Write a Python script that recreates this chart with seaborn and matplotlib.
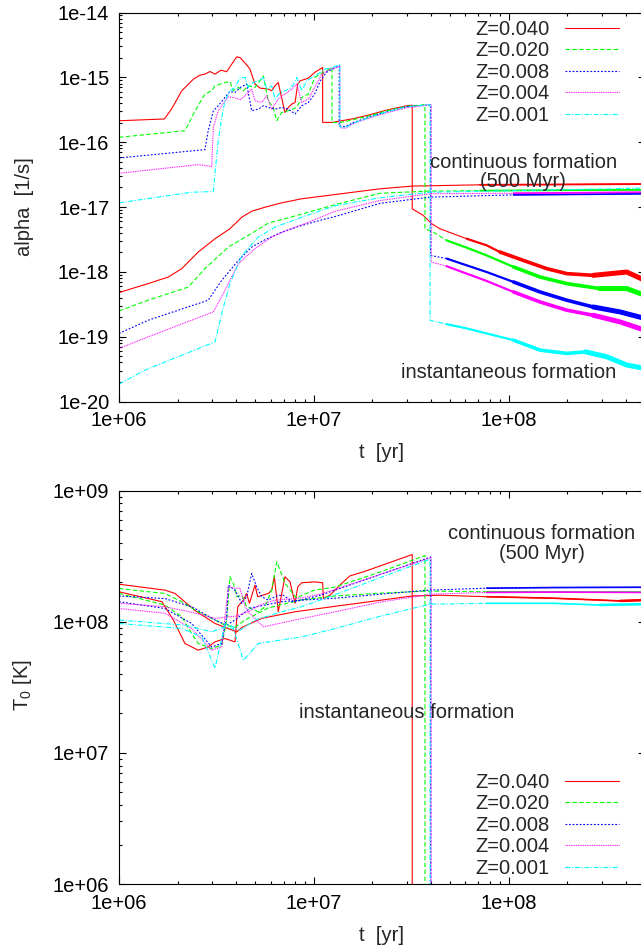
import matplotlib
matplotlib.use("Agg")
import matplotlib.pyplot as plt
from matplotlib.lines import Line2D
from matplotlib.ticker import LogLocator, FuncFormatter, NullFormatter
import numpy as np
import seaborn as sns

# ---- data (t in yr) ----
z_labels = ["Z=0.040", "Z=0.020", "Z=0.008", "Z=0.004", "Z=0.001"]

# top panel: alpha [1/s], instantaneous formation
a_inst_t_040 = [1.0e6, 1.71e6, 1.86e6, 2.10e6, 2.41e6, 2.60e6, 2.76e6, 2.93e6, 3.11e6, 3.34e6, 3.57e6, 3.79e6, 4.02e6,
                4.18e6, 4.52e6, 4.70e6, 4.99e6, 5.30e6, 5.84e6, 6.08e6, 6.32e6, 6.57e6, 6.71e6, 7.11e6, 7.40e6, 7.70e6,
                8.01e6, 8.27e6, 8.50e6, 9.37e6, 1.01e7, 1.11e7, 1.11e7, 1.25e7, 1.59e7, 1.94e7, 2.37e7, 3.00e7, 3.20e7,
                3.20e7, 3.65e7, 4.03e7, 4.44e7, 6.09e7, 7.72e7, 9.03e7, 1.19e8, 1.57e8, 1.99e8, 2.72e8, 4.04e8, 5.0e8]
a_inst_v_040 = [2.14e-16, 2.28e-16, 3.24e-16, 6.20e-16, 9.38e-16, 1.08e-15, 1.12e-15, 1.23e-15, 1.12e-15, 1.29e-15,
                1.22e-15, 1.60e-15, 2.07e-15, 2.02e-15, 1.56e-15, 1.34e-15, 7.86e-16, 6.82e-16, 6.58e-16, 6.20e-16,
                7.40e-16, 8.32e-16, 6.20e-16, 2.87e-16, 3.43e-16, 3.87e-16, 4.10e-16, 7.86e-16, 8.83e-16, 9.72e-16,
                1.19e-15, 1.42e-15, 2.02e-16, 2.02e-16, 2.30e-16, 2.65e-16, 3.13e-16, 3.65e-16, 3.71e-16, 9.38e-18,
                7.40e-18, 5.52e-18, 4.62e-18, 3.24e-18, 2.56e-18, 2.02e-18, 1.50e-18, 1.12e-18, 9.38e-19, 8.83e-19,
                9.93e-19, 7.40e-19]
a_inst_t_020 = [1.0e6, 2.18e6, 2.46e6, 2.76e6, 2.99e6, 3.11e6, 3.50e6, 3.71e6, 3.86e6, 4.10e6, 4.35e6, 4.61e6, 4.99e6,
                5.51e6, 5.84e6, 6.19e6, 6.45e6, 6.84e6, 7.40e6, 8.17e6, 8.67e6, 9.37e6, 1.01e7, 1.12e7, 1.24e7, 1.24e7,
                1.36e7, 1.59e7, 1.94e7, 2.37e7, 3.00e7, 3.72e7, 3.72e7, 4.11e7, 4.81e7, 6.09e7, 7.72e7, 1.06e8, 1.45e8,
                1.99e8, 2.94e8, 4.04e8, 5.0e8]
a_inst_v_020 = [1.19e-16, 1.50e-16, 3.05e-16, 5.52e-16, 6.20e-16, 7.40e-16, 8.32e-16, 8.61e-16, 6.20e-16, 6.97e-16,
                6.20e-16, 7.40e-16, 6.97e-16, 1.05e-15, 4.35e-16, 3.43e-16, 2.14e-16, 2.87e-16, 3.05e-16, 3.43e-16,
                4.89e-16, 5.52e-16, 9.93e-16, 1.19e-15, 1.42e-15, 2.02e-16, 2.00e-16, 2.22e-16, 2.56e-16, 3.05e-16,
                3.58e-16, 3.78e-16, 4.62e-18, 4.09e-18, 3.05e-18, 2.36e-18, 1.79e-18, 1.19e-18, 8.32e-19, 6.58e-19,
                5.52e-19, 5.52e-19, 4.35e-19]
a_inst_t_008 = [1.0e6, 2.76e6, 2.87e6, 3.05e6, 3.23e6, 3.50e6, 3.71e6, 3.94e6, 4.18e6, 4.52e6, 4.80e6, 5.19e6, 5.51e6,
                5.84e6, 6.32e6, 6.84e6, 7.40e6, 8.01e6, 8.67e6, 9.37e6, 1.01e7, 1.08e7, 1.16e7, 1.29e7, 1.35e7, 1.35e7,
                1.45e7, 1.59e7, 1.94e7, 2.37e7, 3.00e7, 3.98e7, 3.98e7, 4.81e7, 6.09e7, 7.72e7, 1.06e8, 1.45e8, 1.99e8,
                2.72e8, 3.73e8, 5.0e8]
a_inst_v_008 = [5.71e-17, 7.67e-17, 1.50e-16, 3.05e-16, 3.65e-16, 4.89e-16, 6.05e-16, 5.83e-16, 6.97e-16, 7.86e-16,
                3.05e-16, 3.24e-16, 3.65e-16, 3.43e-16, 3.24e-16, 3.43e-16, 3.24e-16, 2.72e-16, 3.65e-16, 4.10e-16,
                5.52e-16, 8.83e-16, 1.19e-15, 1.42e-15, 1.50e-15, 1.79e-16, 1.73e-16, 2.00e-16, 2.47e-16, 2.94e-16,
                3.52e-16, 3.78e-16, 1.79e-18, 1.60e-18, 1.26e-18, 9.93e-19, 6.97e-19, 4.89e-19, 3.65e-19, 2.87e-19,
                2.41e-19, 1.91e-19]
a_inst_t_004 = [1.0e6, 2.55e6, 2.99e6, 3.05e6, 3.23e6, 3.50e6, 3.64e6, 4.02e6, 4.18e6, 4.52e6, 4.80e6, 4.99e6, 5.40e6,
                5.73e6, 6.08e6, 6.57e6, 7.11e6, 7.70e6, 8.17e6, 8.67e6, 9.37e6, 1.01e7, 1.10e7, 1.21e7, 1.32e7, 1.36e7,
                1.36e7, 1.45e7, 1.59e7, 1.94e7, 2.37e7, 3.00e7, 4.00e7, 4.00e7, 4.81e7, 6.09e7, 7.72e7, 1.06e8, 1.45e8,
                1.99e8, 2.72e8, 3.73e8, 5.0e8]
a_inst_v_004 = [3.31e-17, 4.51e-17, 4.20e-17, 1.69e-16, 3.05e-16, 4.35e-16, 5.01e-16, 4.79e-16, 4.46e-16, 5.52e-16,
                6.58e-16, 4.35e-16, 4.10e-16, 5.19e-16, 3.24e-16, 4.62e-16, 5.52e-16, 6.58e-16, 7.86e-16, 4.10e-16,
                4.62e-16, 6.97e-16, 1.12e-15, 1.34e-15, 1.42e-15, 1.48e-15, 1.67e-16, 1.64e-16, 1.93e-16, 2.38e-16,
                2.84e-16, 3.40e-16, 3.78e-16, 1.42e-18, 1.22e-18, 9.38e-19, 7.22e-19, 4.89e-19, 3.43e-19, 2.56e-19,
                2.14e-19, 1.69e-19, 1.26e-19]
a_inst_t_001 = [1.0e6, 2.36e6, 3.05e6, 3.11e6, 3.23e6, 3.37e6, 3.50e6, 3.71e6, 3.94e6, 4.18e6, 4.44e6, 4.61e6, 4.89e6,
                5.19e6, 5.51e6, 5.73e6, 6.08e6, 6.32e6, 6.71e6, 7.11e6, 7.70e6, 8.17e6, 8.67e6, 9.20e6, 9.75e6, 1.05e7,
                1.14e7, 1.24e7, 1.36e7, 1.36e7, 1.45e7, 1.59e7, 1.94e7, 2.37e7, 3.00e7, 3.95e7, 3.95e7, 4.81e7, 6.09e7,
                7.72e7, 1.06e8, 1.45e8, 1.99e8, 2.49e8, 3.19e8, 4.04e8, 5.0e8]
a_inst_v_001 = [1.16e-17, 1.69e-17, 1.73e-17, 3.24e-17, 1.05e-16, 2.41e-16, 4.35e-16, 6.20e-16, 6.97e-16, 9.93e-16,
                9.93e-16, 6.97e-16, 8.32e-16, 8.83e-16, 9.93e-16, 6.58e-16, 7.40e-16, 4.62e-16, 5.83e-16, 6.20e-16,
                6.97e-16, 9.93e-16, 6.20e-16, 8.83e-16, 9.93e-16, 1.12e-15, 1.34e-15, 1.42e-15, 1.56e-15, 1.73e-16,
                1.67e-16, 1.96e-16, 2.43e-16, 2.94e-16, 3.52e-16, 3.78e-16, 1.79e-19, 1.56e-19, 1.34e-19, 1.12e-19,
                8.83e-20, 6.20e-20, 5.52e-20, 5.83e-20, 4.89e-20, 3.65e-20, 3.24e-20]

# top panel: alpha, continuous formation (500 Myr)
a_cont_t_040 = [1.0e6, 1.41e6, 1.79e6, 2.10e6, 2.55e6, 3.11e6, 3.71e6, 4.27e6, 4.80e6, 5.62e6, 6.84e6, 8.67e6, 1.29e7,
                2.19e7, 3.20e7, 7.13e7, 1.57e8, 5.0e8]
a_cont_v_040 = [4.79e-19, 6.58e-19, 8.32e-19, 1.12e-18, 2.02e-18, 3.24e-18, 4.62e-18, 6.97e-18, 8.61e-18, 9.93e-18,
                1.16e-17, 1.34e-17, 1.56e-17, 1.91e-17, 2.10e-17, 2.20e-17, 2.22e-17, 2.26e-17]
a_cont_t_020 = [1.0e6, 1.41e6, 2.27e6, 2.76e6, 3.64e6, 4.61e6, 5.84e6, 7.40e6, 9.37e6, 1.29e7, 2.19e7, 3.72e7, 7.13e7,
                5.0e8]
a_cont_v_020 = [2.49e-19, 3.65e-19, 5.83e-19, 1.12e-18, 2.41e-18, 3.65e-18, 5.64e-18, 6.82e-18, 8.32e-18, 1.09e-17,
                1.63e-17, 1.75e-17, 1.79e-17, 1.84e-17]
a_cont_t_008 = [1.0e6, 1.41e6, 2.87e6, 3.37e6, 4.10e6, 4.80e6, 5.62e6, 6.84e6, 8.67e6, 1.10e7, 1.29e7, 2.19e7, 3.95e7,
                1.06e8, 5.0e8]
a_cont_v_008 = [1.12e-19, 1.79e-19, 3.65e-19, 7.40e-19, 1.50e-18, 2.41e-18, 3.13e-18, 4.09e-18, 5.19e-18, 6.35e-18,
                7.14e-18, 1.14e-17, 1.42e-17, 1.54e-17, 1.60e-17]
a_cont_t_004 = [1.0e6, 1.41e6, 3.05e6, 3.50e6, 4.10e6, 4.99e6, 6.08e6, 7.40e6, 9.37e6, 1.29e7, 2.19e7, 3.95e7, 1.06e8,
                5.0e8]
a_cont_v_004 = [6.58e-20, 9.93e-20, 2.41e-19, 5.19e-19, 1.34e-18, 2.28e-18, 3.43e-18, 4.46e-18, 5.83e-18, 8.61e-18,
                1.26e-17, 1.60e-17, 1.63e-17, 1.69e-17]
a_cont_t_001 = [1.0e6, 1.36e6, 3.11e6, 3.37e6, 3.71e6, 4.27e6, 5.19e6, 6.32e6, 8.67e6, 1.29e7, 2.19e7, 3.95e7, 5.0e8]
a_cont_v_001 = [1.86e-20, 3.05e-20, 8.32e-20, 2.28e-19, 6.58e-19, 1.79e-18, 3.43e-18, 4.89e-18, 6.97e-18, 1.05e-17,
                1.39e-17, 1.69e-17, 1.96e-17]

# bottom panel: T0 [K], instantaneous formation (drops to zero at the end)
T_inst_t_040 = [1.0e6, 1.66e6, 1.90e6, 2.18e6, 2.55e6, 2.87e6, 3.11e6, 3.50e6, 3.94e6, 4.07e6, 4.35e6, 4.52e6, 4.67e6,
                4.99e6, 5.15e6, 5.84e6, 6.08e6, 6.27e6, 6.57e6, 7.11e6, 7.55e6, 8.01e6, 8.27e6, 8.67e6, 1.01e7, 1.11e7,
                1.12e7, 1.21e7, 1.36e7, 1.53e7, 1.80e7, 3.20e7, 3.20e7]
T_inst_v_040 = [1.69e8, 1.42e8, 1.03e8, 6.82e7, 6.06e7, 6.42e7, 7.01e7, 7.44e7, 7.01e7, 1.30e8, 1.46e8, 1.64e8, 1.38e8,
                1.90e8, 1.55e8, 1.64e8, 1.74e8, 2.20e8, 1.19e8, 2.20e8, 2.01e8, 1.38e8, 1.84e8, 1.98e8, 2.01e8, 1.98e8,
                1.50e8, 1.59e8, 1.90e8, 2.23e8, 2.40e8, 3.25e8, 1.0e5]
T_inst_t_020 = [1.0e6, 1.72e6, 2.10e6, 2.36e6, 2.55e6, 2.99e6, 3.37e6, 3.57e6, 3.71e6, 3.86e6, 4.02e6, 4.27e6, 4.52e6,
                5.19e6, 5.62e6, 6.08e6, 6.45e6, 6.71e6, 7.11e6, 8.17e6, 8.67e6, 1.01e7, 1.29e7, 2.19e7, 3.72e7, 3.72e7]
T_inst_v_020 = [1.64e8, 1.34e8, 1.09e8, 8.13e7, 6.82e7, 6.24e7, 6.62e7, 1.03e8, 2.20e8, 1.96e8, 1.55e8, 1.59e8, 1.30e8,
                1.19e8, 1.30e8, 1.74e8, 2.86e8, 2.47e8, 1.96e8, 1.50e8, 1.59e8, 1.74e8, 1.84e8, 2.39e8, 3.19e8, 1.0e5]
T_inst_t_008 = [1.0e6, 1.72e6, 2.36e6, 2.99e6, 3.37e6, 3.57e6, 3.64e6, 3.94e6, 4.27e6, 4.52e6, 4.80e6, 5.09e6, 5.40e6,
                5.84e6, 6.57e6, 6.97e6, 7.82e6, 1.08e7, 3.98e7, 3.98e7]
T_inst_v_008 = [1.42e8, 1.26e8, 9.69e7, 6.42e7, 6.82e7, 1.09e8, 1.90e8, 1.74e8, 1.38e8, 1.55e8, 2.33e8, 1.84e8, 1.55e8,
                1.46e8, 1.59e8, 1.59e8, 1.41e8, 1.59e8, 3.11e8, 1.0e5]
T_inst_t_004 = [1.0e6, 1.72e6, 2.36e6, 2.99e6, 3.37e6, 3.64e6, 3.94e6, 4.18e6, 4.44e6, 4.61e6, 5.29e6, 6.32e6, 8.50e6,
                1.08e7, 4.00e7, 4.00e7]
T_inst_v_004 = [1.26e8, 1.16e8, 8.87e7, 6.06e7, 6.42e7, 1.84e8, 1.80e8, 1.79e8, 1.30e8, 1.19e8, 1.34e8, 1.46e8, 1.51e8,
                1.62e8, 3.08e8, 1.0e5]
T_inst_t_001 = [1.0e6, 2.10e6, 2.66e6, 3.11e6, 3.50e6, 3.86e6, 4.18e6, 4.99e6, 6.71e6, 8.50e6, 1.08e7, 3.95e7, 3.95e7]
T_inst_v_001 = [9.69e7, 8.87e7, 7.66e7, 4.42e7, 9.69e7, 9.13e7, 8.61e7, 1.03e8, 1.18e8, 1.29e8, 1.46e8, 3.00e8, 1.0e5]

# bottom panel: T0, continuous formation
T_cont_t_040 = [1.0e6, 1.72e6, 1.94e6, 2.45e6, 3.11e6, 4.02e6, 4.27e6, 5.40e6, 8.01e6, 1.29e7, 3.20e7, 4.44e7, 7.72e7,
                1.69e8, 3.73e8, 5.0e8]
T_cont_v_040 = [1.93e8, 1.74e8, 1.64e8, 1.22e8, 9.69e7, 8.36e7, 9.03e7, 1.06e8, 1.19e8, 1.31e8, 1.57e8, 1.59e8, 1.55e8,
                1.51e8, 1.44e8, 1.46e8]
T_cont_t_020 = [1.0e6, 1.72e6, 2.10e6, 2.55e6, 3.11e6, 3.50e6, 3.94e6, 4.44e6, 5.82e6, 8.50e6, 1.29e7, 2.19e7, 3.72e7,
                7.72e7, 1.69e8, 5.0e8]
T_cont_v_020 = [1.79e8, 1.64e8, 1.42e8, 1.19e8, 1.03e8, 9.40e7, 9.08e7, 1.03e8, 1.27e8, 1.46e8, 1.57e8, 1.65e8, 1.71e8,
                1.69e8, 1.68e8, 1.68e8]
T_cont_t_008 = [1.0e6, 1.72e6, 2.36e6, 3.11e6, 3.57e6, 3.94e6, 4.71e6, 6.84e6, 8.67e6, 1.29e7, 2.19e7, 3.95e7, 7.72e7,
                1.69e8, 5.0e8]
T_cont_v_008 = [1.57e8, 1.50e8, 1.30e8, 1.03e8, 9.40e7, 1.03e8, 1.27e8, 1.42e8, 1.46e8, 1.51e8, 1.62e8, 1.74e8, 1.80e8,
                1.82e8, 1.83e8]
T_cont_t_004 = [1.0e6, 1.72e6, 2.36e6, 3.11e6, 3.94e6, 4.61e6, 5.51e6, 8.50e6, 1.29e7, 2.19e7, 4.00e7, 7.72e7, 1.69e8,
                5.0e8]
T_cont_v_004 = [1.38e8, 1.30e8, 1.18e8, 1.06e8, 1.10e8, 1.19e8, 9.13e7, 1.05e8, 1.19e8, 1.41e8, 1.62e8, 1.67e8, 1.68e8,
                1.67e8]
T_cont_t_001 = [1.0e6, 2.18e6, 2.99e6, 3.50e6, 3.86e6, 4.35e6, 5.19e6, 8.67e6, 1.29e7, 2.19e7, 3.95e7, 7.72e7, 1.69e8,
                2.94e8, 5.0e8]
T_cont_v_001 = [1.03e8, 9.40e7, 8.36e7, 9.13e7, 8.87e7, 5.08e7, 6.82e7, 7.66e7, 8.87e7, 1.10e8, 1.36e8, 1.38e8, 1.38e8,
                1.34e8, 1.36e8]

# ---- styling (gnuplot look) ----
COLORS = ["#ff0000", "#00ff00", "#0000ff", "#ff00ff", "#00ffff"]
STYLES = ["-", (0, (4, 2.2)), (0, (1.6, 1.6)), (0, (0.8, 0.8)), (0, (4.5, 1.5, 1, 1.5))]
LW = 0.8
FS = 14.5

sns.set_theme(style="ticks")
plt.rcParams["font.family"] = ["Liberation Sans", "DejaVu Sans"]
plt.rcParams["axes.linewidth"] = 0.8


def draw(ax, t, v, i, tails=()):
    sns.lineplot(x=t, y=v, ax=ax, color=COLORS[i], linestyle=STYLES[i], lw=LW,
                 sort=False, estimator=None)
    # the noisy late-time part of the curves reads as a thicker band
    t = np.asarray(t)
    v = np.asarray(v)
    for t_from, lw in tails:
        keep = t >= t_from
        sns.lineplot(x=t[keep], y=v[keep], ax=ax, color=COLORS[i], lw=lw,
                     sort=False, estimator=None)


def style_axis(ax, ylo, yhi, xlabel_y):
    ax.set_xscale("log")
    ax.set_yscale("log")
    ax.set_xlim(1e6, 5e8)
    ax.set_ylim(ylo, yhi)
    ax.xaxis.set_major_locator(LogLocator(base=10, numticks=20))
    ax.yaxis.set_major_locator(LogLocator(base=10, numticks=20))
    ax.xaxis.set_minor_locator(LogLocator(base=10, subs=np.arange(2, 10), numticks=20))
    ax.yaxis.set_minor_locator(LogLocator(base=10, subs=np.arange(2, 10), numticks=20))
    fmt = FuncFormatter(lambda v, pos: f"{v:.0e}")
    ax.xaxis.set_major_formatter(fmt)
    ax.yaxis.set_major_formatter(fmt)
    ax.xaxis.set_minor_formatter(NullFormatter())
    ax.yaxis.set_minor_formatter(NullFormatter())
    ax.tick_params(which="both", direction="in", top=True, right=True, width=0.8, labelsize=FS, colors="black")
    ax.tick_params(which="major", length=5, pad=7)
    ax.tick_params(which="minor", length=2.5)
    for s in ax.spines.values():
        s.set_color("black")
    ax.set_xlabel("t  [yr]", fontsize=FS)
    ax.xaxis.set_label_coords(0.5, xlabel_y)
    ax.xaxis.label.set_va("center")


fig = plt.figure(figsize=(6.41, 9.49), dpi=100)
ax_top = fig.add_axes([0.18565, 0.57692, 0.82028, 0.40990])
ax_bot = fig.add_axes([0.18565, 0.06849, 0.82028, 0.41465])

a_inst = [(a_inst_t_040, a_inst_v_040), (a_inst_t_020, a_inst_v_020), (a_inst_t_008, a_inst_v_008),
          (a_inst_t_004, a_inst_v_004), (a_inst_t_001, a_inst_v_001)]
a_cont = [(a_cont_t_040, a_cont_v_040), (a_cont_t_020, a_cont_v_020), (a_cont_t_008, a_cont_v_008),
          (a_cont_t_004, a_cont_v_004), (a_cont_t_001, a_cont_v_001)]
T_inst = [(T_inst_t_040, T_inst_v_040), (T_inst_t_020, T_inst_v_020), (T_inst_t_008, T_inst_v_008),
          (T_inst_t_004, T_inst_v_004), (T_inst_t_001, T_inst_v_001)]
T_cont = [(T_cont_t_040, T_cont_v_040), (T_cont_t_020, T_cont_v_020), (T_cont_t_008, T_cont_v_008),
          (T_cont_t_004, T_cont_v_004), (T_cont_t_001, T_cont_v_001)]

for i in range(5):
    draw(ax_top, *a_cont[i], i, tails=[(4.5e7, 1.3)])
    draw(ax_top, *a_inst[i], i, tails=[(4.5e7, 1.6), (9e7, 2.6), (2e8, 3.6)])
    draw(ax_bot, *T_cont[i], i, tails=[(4.5e7, 1.2), (2e8, 1.8)])
    draw(ax_bot, *T_inst[i], i)

style_axis(ax_top, 1e-20, 1e-14, -0.131)
style_axis(ax_bot, 1e6, 1e9, -0.1296)

ax_top.set_ylabel("alpha  [1/s]", fontsize=FS)
ax_top.yaxis.set_label_coords(-0.162, 0.5)
ax_bot.set_ylabel("T$_{\\mathregular{0}}$ [K]", fontsize=FS)
ax_bot.yaxis.set_label_coords(-0.162, 0.505)

ax_top.text(1.19e8, 3.43e-17, "continuous formation\n(500 Myr)", ha="center", va="center",
            fontsize=FS, linespacing=1.0)
ax_top.text(1.0e8, 2.84e-20, "instantaneous formation", ha="center", va="center", fontsize=FS)
ax_bot.text(1.48e8, 3.97e8, "continuous formation\n(500 Myr)", ha="center", va="center",
            fontsize=FS, linespacing=1.05)
ax_bot.text(3.0e7, 2.04e7, "instantaneous formation", ha="center", va="center", fontsize=FS)

handles = [Line2D([], [], color=COLORS[i], linestyle=STYLES[i], lw=LW) for i in range(5)]
for ax, top_px in [(ax_top, 20), (ax_bot, 773)]:
    ax.legend(handles, z_labels, loc="upper right", bbox_to_anchor=(619 / 641, 1 - top_px / 949),
              bbox_transform=fig.transFigure, frameon=False, markerfirst=False, fontsize=FS,
              handlelength=2.7, handletextpad=0.75, labelspacing=0.12, borderpad=0, borderaxespad=0)

fig.savefig("out.png", dpi=100)
